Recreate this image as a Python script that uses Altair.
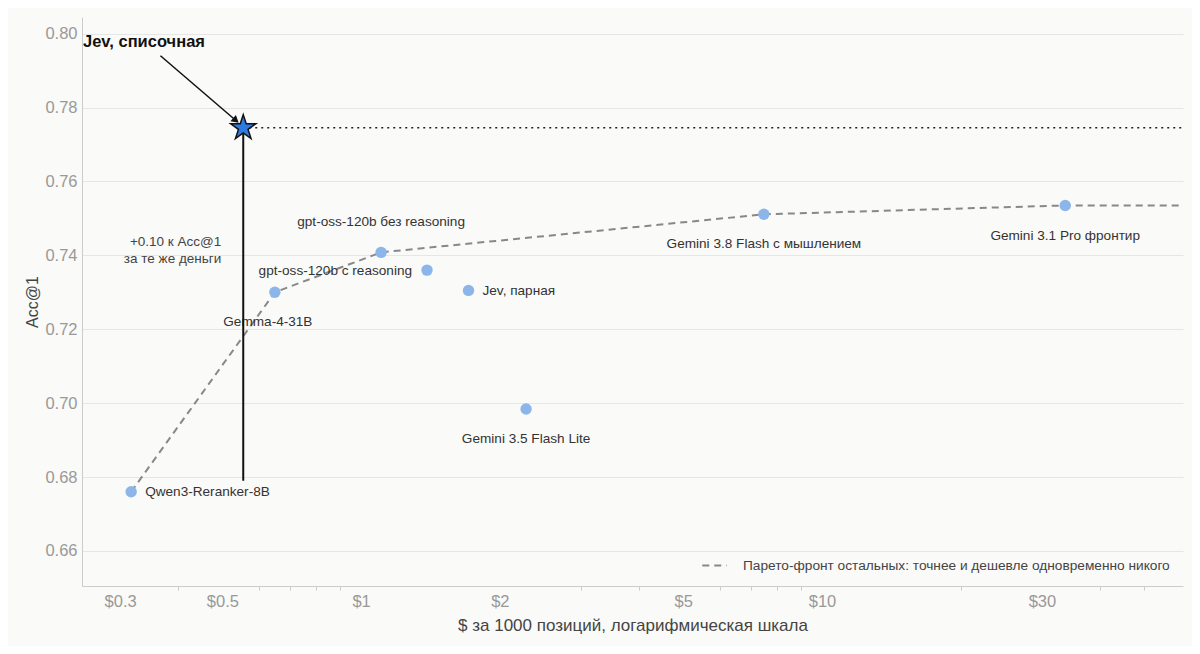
import altair as alt
import pandas as pd

# Модели: стоимость ($ за 1000 позиций) и Acc@1
models = [
    "Qwen3-Reranker-8B",
    "Gemma-4-31B",
    "gpt-oss-120b без reasoning",
    "gpt-oss-120b с reasoning",
    "Jev, парная",
    "Gemini 3.5 Flash Lite",
    "Gemini 3.8 Flash с мышлением",
    "Gemini 3.1 Pro фронтир",
]
cost = [0.317, 0.65, 1.105, 1.39, 1.71, 2.28, 7.48, 33.7]
acc = [0.676, 0.730, 0.7408, 0.736, 0.7305, 0.6984, 0.7511, 0.7535]

# Парето-фронт остальных моделей (продлён до края оси)
pareto_cost = [0.317, 0.65, 1.105, 7.48, 33.7, 60.7]
pareto_acc = [0.676, 0.730, 0.7408, 0.7511, 0.7535, 0.7535]
pareto_name = "Парето-фронт остальных: точнее и дешевле одновременно никого"

# Jev, списочная
jev_cost = 0.555
jev_acc = 0.7745
jev_base_acc = 0.679

x_domain = [0.248, 60.7]
y_domain = [0.6505, 0.8045]
x_labeled = [0.3, 0.5, 1, 2, 5, 10, 30]
x_minor = [0.4, 0.6, 0.7, 0.8, 0.9, 3, 4, 6, 7, 8, 9, 20, 40, 50]
y_ticks = [0.66, 0.68, 0.70, 0.72, 0.74, 0.76, 0.78, 0.80]

FONT = "Liberation Sans"
BG = "#fafaf8"
# пятиконечная звезда (встроенная "star" в этой сборке Vega не работает)
STAR = ("M0,-1 L0.225,-0.309 L0.951,-0.309 L0.363,0.118 L0.588,0.809 L0,0.382 "
        "L-0.588,0.809 L-0.363,0.118 L-0.951,-0.309 L-0.225,-0.309 Z")

df = pd.DataFrame({"model": models, "cost": cost, "acc": acc})
pareto = pd.DataFrame({"cost": pareto_cost, "acc": pareto_acc, "series": pareto_name})

x_scale = alt.Scale(type="log", domain=x_domain, nice=False)
y_scale = alt.Scale(domain=y_domain, nice=False, zero=False)


def X(field, axis=None):
    return alt.X(field, scale=x_scale, axis=axis, title=None)


def Y(field, axis=None):
    return alt.Y(field, scale=y_scale, axis=axis, title=None)


x_main_axis = alt.Axis(
    values=x_labeled,
    labelExpr="'$' + datum.value",
    grid=False,
    ticks=False,
    domainColor="#cccccc",
    labelColor="#999999",
    labelFontSize=16.5,
    labelPadding=7,
    title="$ за 1000 позиций, логарифмическая шкала",
    titleColor="#444444",
    titleFontSize=17,
    titleFontWeight="normal",
    titlePadding=8,
    orient="bottom",
)
x_minor_axis = alt.Axis(
    values=x_minor,
    labels=False,
    grid=False,
    domain=False,
    tickSize=4,
    tickColor="#cccccc",
    title=None,
    orient="bottom",
)
y_axis = alt.Axis(
    values=y_ticks,
    format=".2f",
    ticks=False,
    grid=True,
    gridColor="#e6e6e6",
    domainColor="#cccccc",
    labelColor="#999999",
    labelFontSize=16.5,
    labelPadding=5,
    title="Acc@1",
    titleColor="#444444",
    titleFontSize=16,
    titleFontWeight="normal",
    titlePadding=4,
)

base = alt.Chart(df)

front = (
    alt.Chart(pareto)
    .mark_line(strokeWidth=2, strokeDash=[7, 5], clip=True)
    .encode(
        x=X("cost:Q", x_minor_axis),
        y=Y("acc:Q"),
        color=alt.Color(
            "series:N",
            scale=alt.Scale(domain=[pareto_name], range=["#888888"]),
            legend=alt.Legend(
                title=None,
                orient="bottom-right",
                offset=13,
                symbolType="stroke",
                symbolDash=[7, 5],
                symbolStrokeWidth=2,
                symbolSize=600,
                labelFontSize=13.7,
                labelColor="#444444",
                labelFont=FONT,
                labelLimit=0,
                labelOffset=15,
            ),
        ),
    )
)

points = base.mark_circle(size=130, color="#8cb6ea", opacity=1).encode(
    x=alt.X("cost:Q", scale=x_scale, axis=x_main_axis),
    y=alt.Y("acc:Q", scale=y_scale, axis=y_axis),
)

# Подписи точек: (модель, выравнивание, dx, dy)
label_pos = [
    ("Qwen3-Reranker-8B", "left", 14, 0),
    ("Gemma-4-31B", "center", -7, 30),
    ("gpt-oss-120b без reasoning", "center", 0, -30),
    ("gpt-oss-120b с reasoning", "right", -15, 1),
    ("Jev, парная", "left", 14, 1),
    ("Gemini 3.5 Flash Lite", "center", 0, 30),
    ("Gemini 3.8 Flash с мышлением", "center", 0, 30),
    ("Gemini 3.1 Pro фронтир", "center", 0, 31),
]
labels = []
for name, align, dx, dy in label_pos:
    labels.append(
        base.transform_filter(alt.datum.model == name)
        .mark_text(align=align, baseline="middle", dx=dx, dy=dy, fontSize=13.6, font=FONT, color="#333333")
        .encode(x=X("cost:Q"), y=Y("acc:Q"), text="model:N")
    )

jev = pd.DataFrame({"cost": [jev_cost], "acc": [jev_acc], "base": [jev_base_acc], "right": [x_domain[1]]})

vline = alt.Chart(jev).mark_rule(color="#111111", strokeWidth=2).encode(
    x=X("cost:Q"), y=Y("acc:Q"), y2="base:Q"
)
hline = alt.Chart(jev).mark_rule(color="#222222", strokeWidth=1.5, strokeDash=[2, 4]).encode(
    x=X("cost:Q"), x2="right:Q", y=Y("acc:Q")
)
star = alt.Chart(jev).mark_point(
    shape=STAR, filled=True, color="#2d7be0", stroke="#111111", strokeWidth=1.5, size=700, opacity=1
).encode(x=X("cost:Q"), y=Y("acc:Q"))

# Стрелка от подписи к звезде
arrow = pd.DataFrame({"ax": [0.367], "ay": [0.794], "bx": [0.535], "by": [0.7765]})
arrow_line = alt.Chart(arrow).mark_rule(color="#111111", strokeWidth=1.5).encode(
    x=X("ax:Q"), y=Y("ay:Q"), x2="bx:Q", y2="by:Q"
)
arrow_head = alt.Chart(arrow).mark_point(
    shape="triangle-up", filled=True, color="#111111", size=70, angle=131, opacity=1
).encode(x=X("bx:Q"), y=Y("by:Q"))

title_df = pd.DataFrame({"nx": [x_domain[0]], "ny": [0.7976], "note": ["Jev, списочная"]})
gain_df = pd.DataFrame({"nx": [jev_cost], "ny": [0.7414], "l1": ["+0.10 к Acc@1"], "l2": ["за те же деньги"]})

title_note = alt.Chart(title_df).mark_text(
    align="left", baseline="middle", dx=1, fontSize=16.5, fontWeight="bold", font=FONT, color="#111111"
).encode(x=X("nx:Q"), y=Y("ny:Q"), text="note:N")
gain_note1 = alt.Chart(gain_df).mark_text(
    align="right", baseline="middle", dx=-22, dy=-8, fontSize=13.5, font=FONT, color="#444444"
).encode(x=X("nx:Q"), y=Y("ny:Q"), text="l1:N")
gain_note2 = alt.Chart(gain_df).mark_text(
    align="right", baseline="middle", dx=-22, dy=9, fontSize=13.5, font=FONT, color="#444444"
).encode(x=X("nx:Q"), y=Y("ny:Q"), text="l2:N")

chart = (
    alt.layer(
        front, points, *labels, vline, hline, arrow_line, arrow_head, star,
        title_note, gain_note1, gain_note2,
    )
    .resolve_axis(x="independent", y="independent")
    .properties(
        width=1101,
        height=569,
        background=BG,
        padding={"left": 74, "top": 9, "right": 9, "bottom": 60},
        autosize=alt.AutoSizeParams(type="none"),
    )
    .configure_view(stroke=None)
    .configure_axis(labelFont=FONT, titleFont=FONT)
)

chart.save("out.html", embed_options={"renderer": "svg", "actions": False})
